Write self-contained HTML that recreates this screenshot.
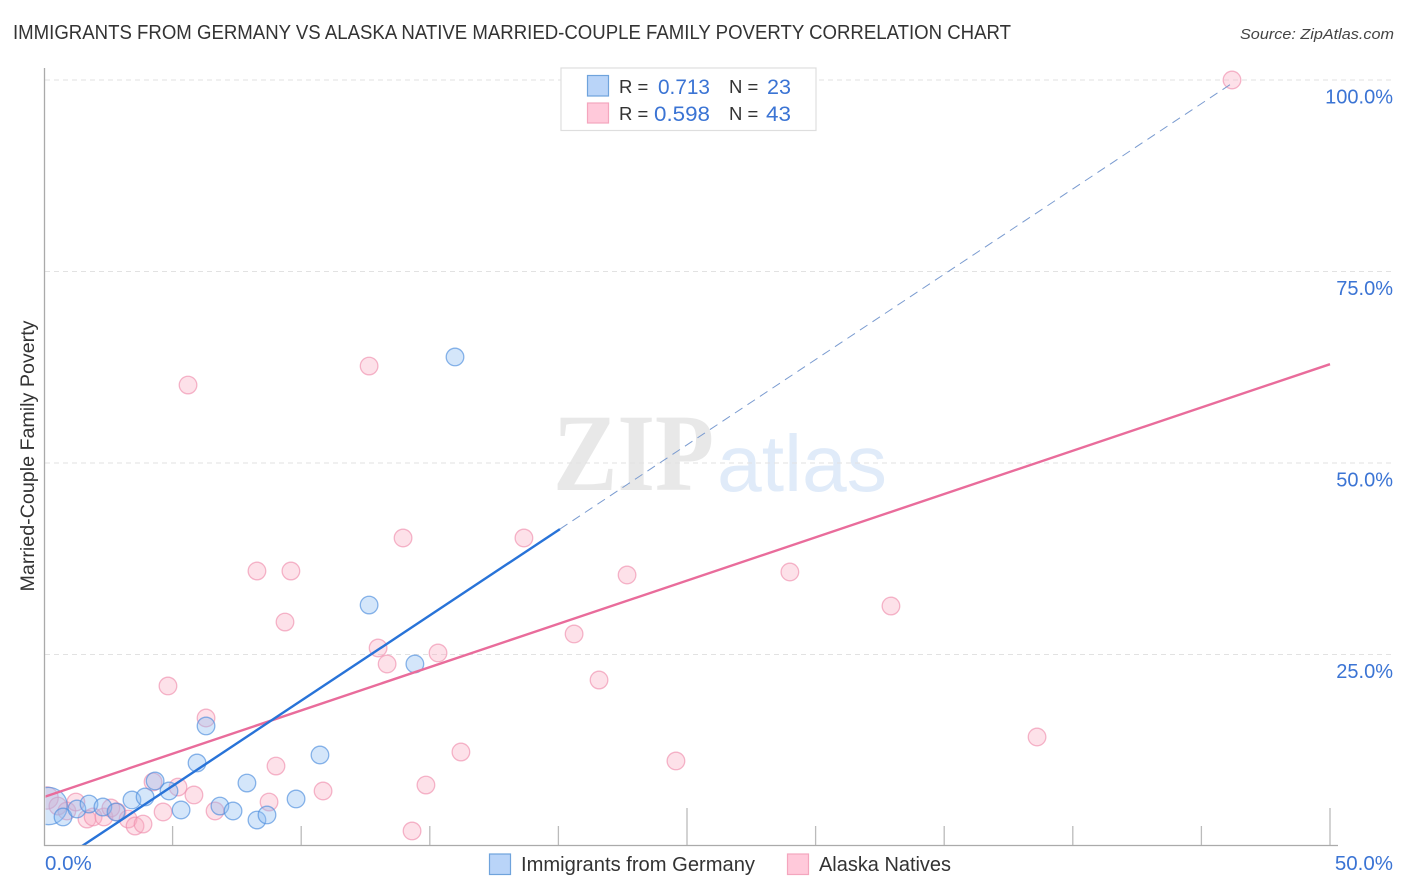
<!DOCTYPE html>
<html lang="en">
<head>
<meta charset="utf-8">
<title>Immigrants from Germany vs Alaska Native Married-Couple Family Poverty Correlation Chart</title>
<style>
html,body{margin:0;padding:0;background:#fff;}
body{width:1406px;height:892px;overflow:hidden;}
svg{display:block;font-family:"Liberation Sans",sans-serif;}
</style>
</head>
<body>
<svg id="chart" width="1406" height="892" viewBox="0 0 1406 892">
  <defs>
    <clipPath id="plot-clip"><rect x="45.5" y="60" width="1360" height="785.5"/></clipPath>
  </defs>
  <text x="13" y="39" font-size="20" fill="#333" textLength="998" lengthAdjust="spacingAndGlyphs">IMMIGRANTS FROM GERMANY VS ALASKA NATIVE MARRIED-COUPLE FAMILY POVERTY CORRELATION CHART</text>
  <text x="1394" y="39" font-size="15" font-style="italic" fill="#444" text-anchor="end" textLength="154" lengthAdjust="spacingAndGlyphs">Source: ZipAtlas.com</text>

  <g>
    <text x="553" y="490" font-family="'Liberation Serif',serif" font-weight="bold" font-size="110" fill="#e8e8e8" textLength="161" lengthAdjust="spacingAndGlyphs">ZIP</text>
    <text x="717" y="491" font-size="80" fill="#e0ebf9" textLength="170" lengthAdjust="spacingAndGlyphs">atlas</text>
  </g>

  <g id="grid"></g>
  <g id="xticks"></g>
  <g id="pink-points" clip-path="url(#plot-clip)"></g>
  <g id="blue-points" clip-path="url(#plot-clip)"></g>
  <g id="lines" clip-path="url(#plot-clip)"></g>

  <line x1="44.5" y1="68" x2="44.5" y2="846" stroke="#aaa" stroke-width="1.3"/>
  <line x1="44" y1="845.5" x2="1338" y2="845.5" stroke="#aaa" stroke-width="1.3"/>

  <g id="ylabels"></g>
  <g id="xlabels"></g>

  <text transform="translate(34 456) rotate(-90)" font-size="19" fill="#333" text-anchor="middle" textLength="271" lengthAdjust="spacingAndGlyphs">Married-Couple Family Poverty</text>

  <g>
    <rect x="561" y="68" width="255" height="62.5" fill="#fff" stroke="#dedede" stroke-width="1.2"/>
    <rect x="587.5" y="75.5" width="21" height="20.5" fill="#b9d4f8" stroke="#6fa3dc" stroke-width="1.2"/>
    <rect x="587.5" y="103" width="21" height="20" fill="#ffc9da" stroke="#f4a6be" stroke-width="1.2"/>
    <g font-size="18.5" fill="#333">
      <text x="619" y="93">R =</text>
      <text x="729" y="93">N =</text>
      <text x="619" y="120">R =</text>
      <text x="729" y="120">N =</text>
    </g>
    <g font-size="21" fill="#3b74d4">
      <text x="658" y="94" textLength="52" lengthAdjust="spacingAndGlyphs">0.713</text>
      <text x="767" y="94" textLength="24" lengthAdjust="spacingAndGlyphs">23</text>
      <text x="654" y="121" textLength="56" lengthAdjust="spacingAndGlyphs">0.598</text>
      <text x="766" y="121" textLength="25" lengthAdjust="spacingAndGlyphs">43</text>
    </g>
  </g>

  <g>
    <g>
      <rect x="489.5" y="854" width="21" height="20.5" fill="#b9d4f8" stroke="#6fa3dc" stroke-width="1.2"/>
      <text x="521" y="871" font-size="20" fill="#333" textLength="234" lengthAdjust="spacingAndGlyphs">Immigrants from Germany</text>
    </g>
    <g>
      <rect x="787.5" y="854" width="21" height="20.5" fill="#ffc9da" stroke="#f4a6be" stroke-width="1.2"/>
      <text x="819" y="871" font-size="20" fill="#333" textLength="132" lengthAdjust="spacingAndGlyphs">Alaska Natives</text>
    </g>
  </g>
</svg>

<script>
const yTickValues = [25, 50, 75, 100];
const yGridValues = [25, 50, 75, 100];
const yTickLabels = ["25.0%", "50.0%", "75.0%", "100.0%"];
const xTickValues = [5, 10, 15, 20, 25, 30, 35, 40, 45, 50];
const xMajorTicks = [25, 50];
const xLabelValues = ["0.0%", "50.0%"];

const blueX = [0.18, 0.74, 1.28, 1.75, 2.29, 2.80, 3.42, 3.93, 4.32, 4.86, 5.33, 5.95, 6.30, 6.84, 7.35, 7.89, 8.28, 8.67, 9.80, 10.73, 12.64, 14.42, 15.98];
const blueY = [5.22, 3.79, 4.83, 5.48, 5.09, 4.44, 6.01, 6.40, 8.49, 7.18, 4.70, 10.84, 15.67, 5.22, 4.57, 8.22, 3.39, 4.05, 6.14, 11.88, 31.46, 23.76, 63.84];
const blueWeight = [4.5, 1, 1, 1, 1, 1, 1, 1, 1, 1, 1, 1, 1, 1, 1, 1, 1, 1, 1, 1, 1, 1, 1];

const pinkX = [0.12, 0.54, 0.89, 1.24, 1.67, 1.91, 2.33, 2.60, 2.84, 3.27, 3.54, 3.85, 4.24, 4.63, 4.82, 5.21, 5.60, 5.83, 6.30, 6.65, 8.28, 8.75, 9.02, 9.37, 9.60, 10.85, 12.64, 12.99, 13.34, 13.96, 14.31, 14.85, 15.32, 16.21, 18.66, 20.61, 21.58, 22.67, 24.57, 29.00, 32.93, 38.61, 46.19];
const pinkY = [6.27, 5.22, 4.57, 5.74, 3.52, 3.79, 3.79, 4.96, 4.44, 3.52, 2.61, 2.87, 8.36, 4.44, 20.89, 7.70, 60.18, 6.66, 16.71, 4.57, 35.90, 5.74, 10.44, 29.24, 35.90, 7.18, 62.66, 25.85, 23.76, 40.21, 1.96, 7.96, 25.20, 12.27, 40.21, 27.68, 21.67, 35.38, 11.10, 35.77, 31.33, 14.23, 100];
const pinkWeight = [1.6, 1, 1, 1, 1, 1, 1, 1, 1, 1, 1, 1, 1, 1, 1, 1, 1, 1, 1, 1, 1, 1, 1, 1, 1, 1, 1, 1, 1, 1, 1, 1, 1, 1, 1, 1, 1, 1, 1, 1, 1, 1, 1];

const blueSlope = 2.227;
const blueIntercept = -3.30;
const blueSolidRange = [1.48, 20.06];
const blueDashedRange = [20.06, 46.19];
const pinkSlope = 1.13;
const pinkIntercept = 6.4;
const pinkRange = [0, 50];

const SVG_NS = "http://www.w3.org/2000/svg";
function xScale(v) { return 44 + v * 25.72; }
function yScale(v) { return 846 - v * 7.66; }
function make(tag, parent, attrs) {
  const el = document.createElementNS(SVG_NS, tag);
  for (const k in attrs) el.setAttribute(k, attrs[k]);
  document.getElementById(parent).appendChild(el);
  return el;
}

yGridValues.forEach(function (v) {
  const el = make("line", "grid", {
    x1: 45, x2: 1393, y1: yScale(v), y2: yScale(v),
    stroke: "#e2e2e2", "stroke-width": 1, "stroke-dasharray": "5 4"
  });
  
  
});

xTickValues.forEach(function (v) {
  const major = xMajorTicks.indexOf(v) >= 0;
  const el = make("line", "xticks", {
    x1: xScale(v), x2: xScale(v), y1: major ? 808 : 826, y2: 846,
    stroke: "#bbb", "stroke-width": 1.3
  });
  
  
});

pinkX.forEach(function (x, i) {
  const el = make("circle", "pink-points", {
    cx: xScale(x), cy: yScale(pinkY[i]), r: 8.8 * Math.sqrt(pinkWeight[i]),
    fill: "#f9a8c0", "fill-opacity": 0.35, stroke: "#f08fae", "stroke-opacity": 0.65, "stroke-width": 1.3
  });
  
  
});

blueX.forEach(function (x, i) {
  const el = make("circle", "blue-points", {
    cx: xScale(x), cy: yScale(blueY[i]), r: 8.8 * Math.sqrt(blueWeight[i]),
    fill: "#8fbcf2", "fill-opacity": 0.38, stroke: "#4d8ddd", "stroke-opacity": 0.65, "stroke-width": 1.3
  });
  
  
});

const pinkLine = make("line", "lines", {
  x1: xScale(pinkRange[0]), y1: yScale(pinkIntercept + pinkSlope * pinkRange[0]),
  x2: xScale(pinkRange[1]), y2: yScale(pinkIntercept + pinkSlope * pinkRange[1]),
  stroke: "#e96c9b", "stroke-width": 2.4
});



const blueDashed = make("line", "lines", {
  x1: xScale(blueDashedRange[0]), y1: yScale(blueIntercept + blueSlope * blueDashedRange[0]),
  x2: xScale(blueDashedRange[1]), y2: yScale(blueIntercept + blueSlope * blueDashedRange[1]),
  stroke: "#7a9bd0", "stroke-width": 1, "stroke-dasharray": "9 6"
});



const blueLine = make("line", "lines", {
  x1: xScale(blueSolidRange[0]), y1: yScale(blueIntercept + blueSlope * blueSolidRange[0]),
  x2: xScale(blueSolidRange[1]), y2: yScale(blueIntercept + blueSlope * blueSolidRange[1]),
  stroke: "#2873d8", "stroke-width": 2.4
});



yTickValues.forEach(function (v, i) {
  const el = make("text", "ylabels", {
    x: 1393, y: yScale(v) + 23.5, "font-size": 20, fill: "#3b74d4", "text-anchor": "end"
  });
  el.textContent = yTickLabels[i];
  
  
});

const xLabelStart = make("text", "xlabels", {
  x: 45, y: 870, "font-size": 20.5, fill: "#3b74d4"
});
xLabelStart.textContent = xLabelValues[0];



const xLabelEnd = make("text", "xlabels", {
  x: 1393, y: 870, "font-size": 20.5, fill: "#3b74d4", "text-anchor": "end"
});
xLabelEnd.textContent = xLabelValues[1];


</script>
</body>
</html>
